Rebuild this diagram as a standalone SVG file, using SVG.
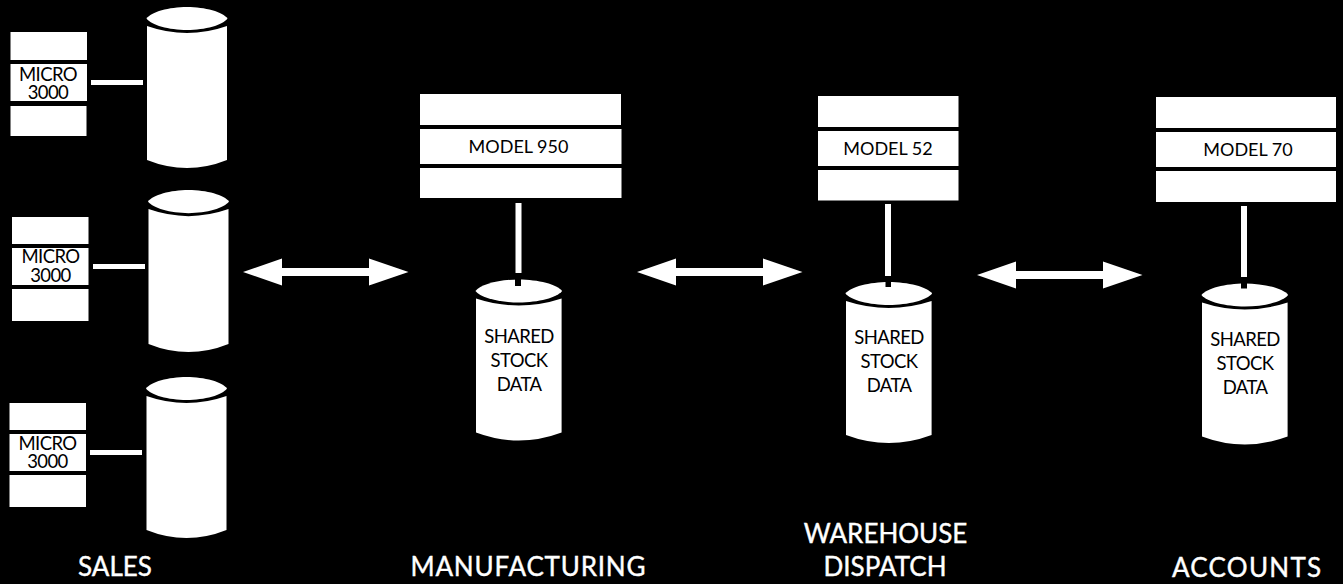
<svg xmlns="http://www.w3.org/2000/svg" width="1343" height="584" viewBox="0 0 1343 584">
<style>
.w{fill:#fff}
.k{fill:#000}
text{font-family:"Lato","Liberation Sans",sans-serif;fill:#000;text-anchor:middle}
.m{font-size:18.5px;letter-spacing:-.6px}
.b{font-size:18px}
.s{font-size:18.5px;letter-spacing:-.6px}
.c{font-size:26px;fill:#fff;stroke:#fff;stroke-width:.4px}
</style>
<defs>
<g id="cyl80">
<path class="w" d="M0 19Q40 33 80 19V153Q40 169 0 153Z"/>
<path class="w" d="M-.5 11.500C4 5 22 0 40 0S76 5 80.500 11.500C76 18 58 23 40 23S4 18 -.5 11.500Z"/>
</g>
<g id="arrow">
<path class="w" d="M0 0L39 -13.500V-4H126V-13.500L165.500 0L126 13.500V4H39V13.500Z"/>
</g>
</defs>
<rect width="1343" height="584" fill="#000"/>
<g id="connectors">
<rect class="w" x="91" y="80" width="52" height="5"/>
<rect class="w" x="93" y="264" width="52" height="5"/>
<rect class="w" x="90" y="450" width="52" height="5"/>
<rect class="w" x="515.500" y="203" width="6" height="70"/>
<rect class="w" x="885" y="204" width="6" height="72"/>
<rect class="w" x="1241" y="206" width="6" height="71"/>
<use id="arrow1" href="#arrow" x="243" y="272"/>
<use id="arrow2" href="#arrow" x="637" y="272"/>
<use id="arrow3" href="#arrow" x="977" y="275"/>
</g>
<g id="sales1">
<rect class="w" x="10.500" y="32" width="76.500" height="28"/>
<rect class="w" x="10.500" y="64" width="76.500" height="37"/>
<rect class="w" x="10.500" y="106" width="76" height="30"/>
<text class="m" x="48" y="81">MICRO<tspan x="48" dy="18">3000</tspan></text>
<use href="#cyl80" x="147" y="7"/>
</g>
<g id="sales2">
<rect class="w" x="12" y="217" width="76.500" height="27"/>
<rect class="w" x="12" y="248" width="76.500" height="37"/>
<rect class="w" x="12" y="289" width="76.500" height="32"/>
<text class="m" x="50.500" y="263">MICRO<tspan x="50.500" dy="19">3000</tspan></text>
<use href="#cyl80" transform="translate(148.500 190) scale(1 1.006)"/>
</g>
<g id="sales3">
<rect class="w" x="9.500" y="403" width="76.500" height="27"/>
<rect class="w" x="9.500" y="434" width="76.500" height="37"/>
<rect class="w" x="9.500" y="475" width="76.500" height="32"/>
<text class="m" x="47.500" y="450">MICRO<tspan x="47.500" dy="18">3000</tspan></text>
<use href="#cyl80" x="146.500" y="377"/>
</g>
<g id="manufacturing">
<rect class="w" x="420" y="94" width="201" height="31"/>
<rect class="w" x="420" y="129" width="201.500" height="35"/>
<rect class="w" x="420" y="168" width="201.500" height="30"/>
<text class="b" x="518.500" y="153">MODEL 950</text>
<use href="#cyl80" transform="translate(476 279.500) scale(1.07 1)"/>
<rect class="k" x="515" y="279" width="6" height="7"/>
<text class="s" x="519" y="343">SHARED</text>
<text class="s" x="519" y="367">STOCK</text>
<text class="s" x="519" y="391">DATA</text>
</g>
<g id="warehouse">
<rect class="w" x="818" y="96" width="140.500" height="31"/>
<rect class="w" x="818" y="131" width="140.500" height="35"/>
<rect class="w" x="818" y="170" width="140.500" height="30.500"/>
<text class="b" x="888" y="155">MODEL 52</text>
<use href="#cyl80" transform="translate(846 282) scale(1.07 1)"/>
<rect class="k" x="885.500" y="281" width="5.500" height="6"/>
<text class="s" x="889" y="344">SHARED</text>
<text class="s" x="889" y="368">STOCK</text>
<text class="s" x="889" y="392">DATA</text>
</g>
<g id="accounts">
<rect class="w" x="1156" y="97" width="180" height="31"/>
<rect class="w" x="1156" y="132" width="180" height="35"/>
<rect class="w" x="1156" y="171" width="180" height="31"/>
<text class="b" x="1248" y="156">MODEL 70</text>
<use href="#cyl80" transform="translate(1202 283.500) scale(1.07 1)"/>
<rect class="k" x="1241" y="283" width="6" height="5.500"/>
<text class="s" x="1245" y="346">SHARED</text>
<text class="s" x="1245" y="370">STOCK</text>
<text class="s" x="1245" y="394">DATA</text>
</g>
<g id="labels">
<text class="c" x="115" y="576">SALES</text>
<text class="c" x="528" y="576" textLength="235">MANUFACTURING</text>
<text class="c" x="885.500" y="543">WAREHOUSE</text>
<text class="c" x="885" y="576">DISPATCH</text>
<text class="c" x="1246.500" y="577" textLength="149">ACCOUNTS</text>
</g>
</svg>
